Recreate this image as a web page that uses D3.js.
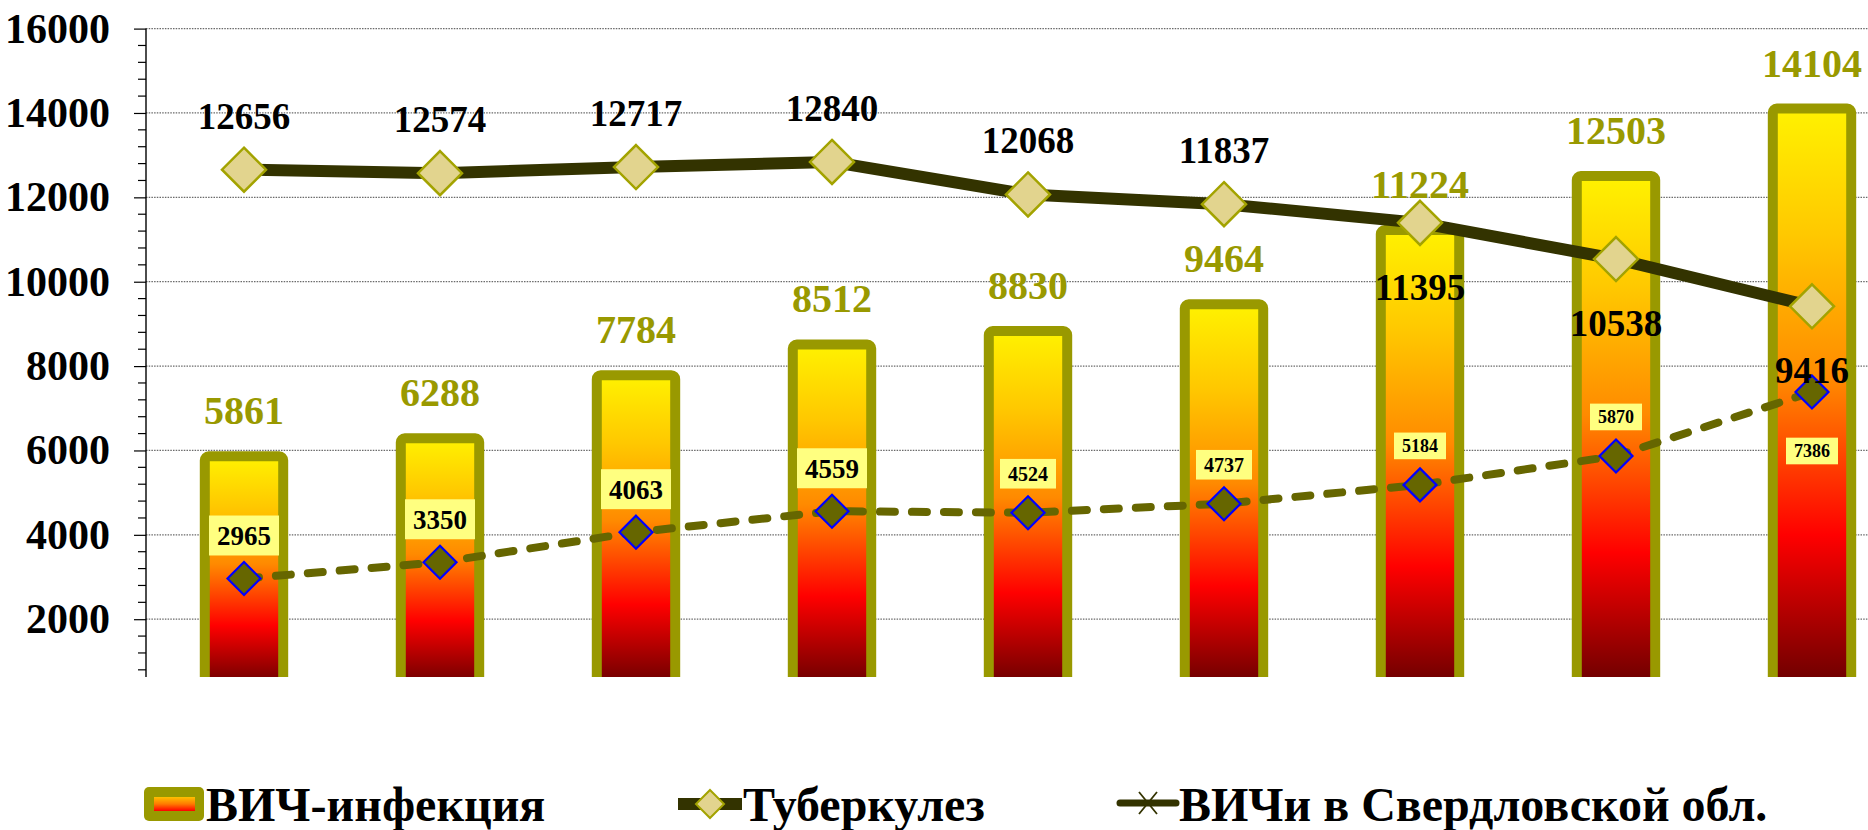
<!DOCTYPE html>
<html lang="ru">
<head>
<meta charset="utf-8">
<script src="https://cdn.jsdelivr.net/npm/d3@7"></script>
<style>
  html, body { margin: 0; padding: 0; background: #fff; }
  svg text { font-family: "Liberation Serif", "DejaVu Serif", serif; font-weight: bold; }
</style>
</head>
<body>
<svg id="chart" width="1868" height="830"></svg>
<script>
// ---- data ----
const periods = [1, 2, 3, 4, 5, 6, 7, 8, 9];
const hivCases = [5861, 6288, 7784, 8512, 8830, 9464, 11224, 12503, 14104];
const tbCases = [12656, 12574, 12717, 12840, 12068, 11837, 11395, 10538, 9416];
const hivSverdlovsk = [2965, 3350, 4063, 4559, 4524, 4737, 5184, 5870, 7386];
const yTickValues = [2000, 4000, 6000, 8000, 10000, 12000, 14000, 16000];
const seriesNames = ["ВИЧ-инфекция", "Туберкулез", "ВИЧи в Свердловской обл."];

// ---- label styling ----
const tbLabelBelow = [false, false, false, false, false, false, true, true, true];
const sverdlLabelSize = [27, 27, 27, 27, 20, 20, 18, 18, 18];
const sverdlLabelBelow = [false, false, false, false, false, false, false, false, true];

const FONT = "Liberation Serif, DejaVu Serif, serif";
const W = 1868, H = 830;
const plot = { left: 146, right: 1910, top: 28.6, bottom: 677 };
const olive = "#999900";

const svg = d3.select("#chart");
const defs = svg.append("defs");

// fire gradient used by the bars
const fire = defs.append("linearGradient")
  .attr("id", "fire").attr("x1", 0).attr("y1", 0).attr("x2", 0).attr("y2", 1);
[[0, "#FFF200"], [0.22, "#FFC800"], [0.47, "#FF8A00"], [0.74, "#FF0000"], [1, "#6B0000"]]
  .forEach(([o, c]) => fire.append("stop").attr("offset", o).attr("stop-color", c));

const fireSmall = defs.append("linearGradient")
  .attr("id", "fireSmall").attr("x1", 0).attr("y1", 0).attr("x2", 0).attr("y2", 1);
[[0, "#FFC000"], [0.5, "#FF7A00"], [1, "#FF0000"]]
  .forEach(([o, c]) => fireSmall.append("stop").attr("offset", o).attr("stop-color", c));

defs.append("clipPath").attr("id", "plotClip")
  .append("rect").attr("x", plot.left).attr("y", 0)
  .attr("width", W - plot.left).attr("height", plot.bottom);

// ---- scales ----
const x = d3.scaleBand()
  .domain(periods)
  .range([plot.left, plot.right])
  .paddingInner(0.6)
  .paddingOuter(0.3);
const cx = p => x(p) + x.bandwidth() / 2;

const y = d3.scaleLinear().domain([630, 16000]).range([plot.bottom, plot.top]);

// ---- gridlines ----
svg.append("g")
  .selectAll("line")
  .data(yTickValues)
  .join("line")
  .attr("x1", plot.left).attr("x2", W)
  .attr("y1", d => y(d)).attr("y2", d => y(d))
  .attr("stroke", "#6a6a6a")
  .attr("stroke-width", 1.3)
  .attr("stroke-dasharray", "1.5,1.2");

// ---- y axis ----
const yAxis = d3.axisLeft(y)
  .tickValues(yTickValues)
  .tickSize(12)
  .tickPadding(24)
  .tickFormat(d3.format("d"));
const gy = svg.append("g").attr("transform", `translate(${plot.left},0)`).call(yAxis);
gy.attr("font-family", FONT).attr("font-size", 42);
gy.select(".domain").remove();
gy.selectAll(".tick line").attr("stroke", "#000").attr("stroke-width", 1.2);
gy.selectAll(".tick text")
  .attr("fill", "#000")
  .attr("font-size", 42)
  .attr("font-family", FONT)
  .attr("font-weight", "bold");

const minorTicks = d3.range(800, 16000, 400).filter(v => v % 2000 !== 0);
svg.append("g")
  .selectAll("line")
  .data(minorTicks)
  .join("line")
  .attr("x1", plot.left - 8).attr("x2", plot.left)
  .attr("y1", d => y(d)).attr("y2", d => y(d))
  .attr("stroke", "#000").attr("stroke-width", 1.2);

svg.append("line")
  .attr("x1", plot.left).attr("x2", plot.left)
  .attr("y1", y(16000)).attr("y2", plot.bottom)
  .attr("stroke", "#000").attr("stroke-width", 1.4);

// ---- bars: ВИЧ-инфекция ----
const barData = periods.map((p, i) => ({ p, v: hivCases[i] }));
svg.append("g").attr("clip-path", "url(#plotClip)")
  .selectAll("rect")
  .data(barData)
  .join("rect")
  .attr("x", d => x(d.p))
  .attr("width", x.bandwidth())
  .attr("y", d => y(d.v))
  .attr("height", d => plot.bottom - y(d.v) + 8)
  .attr("rx", 4)
  .attr("fill", "url(#fire)")
  .attr("stroke", olive)
  .attr("stroke-width", 10);

svg.append("g")
  .selectAll("text")
  .data(barData)
  .join("text")
  .attr("x", d => cx(d.p))
  .attr("y", d => y(d.v) - 32)
  .attr("text-anchor", "middle")
  .attr("font-family", FONT)
  .attr("font-weight", "bold")
  .attr("font-size", 40)
  .attr("fill", olive)
  .text(d => d.v);

// ---- line: ВИЧи в Свердловской обл. ----
const sverdlData = periods.map((p, i) => ({ p, v: hivSverdlovsk[i], i }));
svg.append("path")
  .datum(sverdlData)
  .attr("fill", "none")
  .attr("stroke", "#666600")
  .attr("stroke-width", 8)
  .attr("stroke-linecap", "round")
  .attr("stroke-dasharray", "15,17")
  .attr("d", d3.line().x(d => cx(d.p)).y(d => y(d.v)));

// ---- line: Туберкулез ----
const tbData = periods.map((p, i) => ({ p, v: tbCases[i], i }));
svg.append("path")
  .datum(tbData)
  .attr("fill", "none")
  .attr("stroke", "#333300")
  .attr("stroke-width", 12)
  .attr("stroke-linejoin", "round")
  .attr("d", d3.line().x(d => cx(d.p)).y(d => y(d.v)));

const diamond = r => `M0,${-r}L${r},0L0,${r}L${-r},0Z`;

svg.append("g")
  .selectAll("path")
  .data(tbData)
  .join("path")
  .attr("transform", d => `translate(${cx(d.p)},${y(d.v)})`)
  .attr("d", diamond(22))
  .attr("fill", "#E2D48E")
  .attr("stroke", "#A3A300")
  .attr("stroke-width", 2.5);

svg.append("g")
  .selectAll("path")
  .data(sverdlData)
  .join("path")
  .attr("transform", d => `translate(${cx(d.p)},${y(d.v)})`)
  .attr("d", diamond(16.5))
  .attr("fill", "#666600")
  .attr("stroke", "#0000FF")
  .attr("stroke-width", 2.2);

// Туберкулез value labels
svg.append("g")
  .selectAll("text")
  .data(tbData)
  .join("text")
  .attr("x", d => cx(d.p))
  .attr("y", d => y(d.v) + (tbLabelBelow[d.i] ? 77 : -41))
  .attr("text-anchor", "middle")
  .attr("font-family", FONT)
  .attr("font-weight", "bold")
  .attr("font-size", 37)
  .attr("fill", "#000")
  .text(d => d.v);

// Свердловская обл. value labels in yellow boxes
const boxes = svg.append("g")
  .selectAll("g")
  .data(sverdlData)
  .join("g")
  .attr("transform", d => {
    const fs = sverdlLabelSize[d.i];
    const off = sverdlLabelBelow[d.i] ? 59 : -(fs >= 27 ? 43 : 39);
    return `translate(${cx(d.p)},${y(d.v) + off})`;
  });
boxes.append("rect").attr("fill", "#FFFF80");
boxes.append("text")
  .attr("text-anchor", "middle")
  .attr("dy", "0.35em")
  .attr("font-family", FONT)
  .attr("font-weight", "bold")
  .attr("font-size", d => sverdlLabelSize[d.i])
  .attr("fill", "#000")
  .text(d => d.v);
boxes.each(function(d) {
  const g = d3.select(this);
  const fs = sverdlLabelSize[d.i];
  const tw = g.select("text").node().getComputedTextLength();
  const bw = tw + 16, bh = fs * 1.48;
  g.select("rect").attr("x", -bw / 2).attr("y", -bh / 2).attr("width", bw).attr("height", bh);
});

// ---- legend ----
const legend = svg.append("g")
  .attr("font-family", FONT).attr("font-weight", "bold");
const legendBase = 821;
const legendFont = 48;

// bar swatch
legend.append("rect")
  .attr("x", 144).attr("y", 787).attr("width", 60).attr("height", 34).attr("rx", 5)
  .attr("fill", olive);
legend.append("rect")
  .attr("x", 154).attr("y", 797).attr("width", 41).attr("height", 14)
  .attr("fill", "url(#fireSmall)");
legend.append("text").attr("x", 206).attr("y", legendBase)
  .attr("font-size", legendFont).attr("fill", "#000").text(seriesNames[0]);

// Туберкулез swatch
legend.append("line")
  .attr("x1", 678).attr("x2", 742).attr("y1", 804).attr("y2", 804)
  .attr("stroke", "#333300").attr("stroke-width", 12);
legend.append("path")
  .attr("transform", "translate(710,804)")
  .attr("d", diamond(14))
  .attr("fill", "#E2D48E").attr("stroke", "#A3A300").attr("stroke-width", 2);
legend.append("text").attr("x", 743).attr("y", legendBase)
  .attr("font-size", legendFont).attr("fill", "#000").text(seriesNames[1]);

// Свердловская обл. swatch
legend.append("line")
  .attr("x1", 1120).attr("x2", 1176).attr("y1", 803).attr("y2", 803)
  .attr("stroke", "#333300").attr("stroke-width", 7).attr("stroke-linecap", "round");
legend.append("path")
  .attr("transform", "translate(1148,803)")
  .attr("d", "M-9,-11L9,11M9,-11L-9,11")
  .attr("stroke", "#333300").attr("stroke-width", 1.8).attr("fill", "none");
legend.append("text").attr("x", 1179).attr("y", legendBase)
  .attr("font-size", legendFont).attr("fill", "#000").text(seriesNames[2]);
</script>
</body>
</html>
